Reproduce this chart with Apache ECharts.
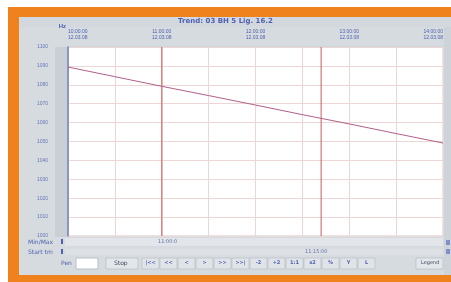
<!DOCTYPE html>
<html style="height: 100%">
<head>
<meta charset="utf-8">
<script src="https://cdn.jsdelivr.net/npm/echarts@6/dist/echarts.min.js"></script>
<style>
  body { margin: 0; background: #fff; overflow: hidden; width: 451px; height: 282px; }
  .band { position: absolute; background: #f0821e; }
  #panel { position: absolute; left: 19px; top: 17px; width: 440px; height: 258px; background: #d6dbe0; }
  #trend { position: absolute; left: 0; top: 0; width: 451px; height: 282px; }
</style>
</head>
<body>
<div class="band" style="left: 8px; top: 7px; width: 450px; height: 10px;"></div>
<div class="band" style="left: 8px; top: 7px; width: 11px; height: 275px;"></div>
<div class="band" style="left: 8px; top: 275px; width: 450px; height: 7px;"></div>
<div id="panel"></div>
<div id="trend"></div>
<script type="text/javascript">
// trend data: minutes from start, value
var minutes = [0, 30, 60, 90, 120, 150, 180, 210, 240];
var values = [1089.4, 1084.3, 1079.2, 1074.3, 1069.3, 1064.2, 1059.3, 1054.2, 1049.2];
var timeLabels = ['10:00:00', '11:00:00', '12:00:00', '13:00:00', '14:00:00'];
var dateLabel = '12.03.08';
var cursors = [60, 162];
var buttons = ['|<<', '<<', '<', '>', '>>', '>>|', '-2', '+2', '1:1', 'x2', '%', 'Y', 'L'];

var blue = '#5060b0';

var dom = document.getElementById('trend');
var myChart = echarts.init(dom);

var graphics = [
    {type: 'rect', shape: {x: 19, y: 17, width: 432, height: 10}, style: {fill: '#d2d8de'}, z: -8},
    {type: 'rect', shape: {x: 55, y: 47, width: 12, height: 190}, style: {fill: '#c9cfd4'}, z: -8},
    {type: 'rect', shape: {x: 444, y: 27, width: 7, height: 248}, style: {fill: '#cdd3d8'}, z: -8},
    {type: 'text', left: 'center', top: 18, style: {text: 'Trend: 03 BH 5 Lig. 16.2', fill: blue, font: 'bold 7px "DejaVu Sans"'}},
    // slider rows
    {type: 'rect', shape: {x: 65, y: 238, width: 378, height: 8}, style: {fill: '#e2e6ea'}},
    {type: 'rect', shape: {x: 65, y: 249, width: 378, height: 6}, style: {fill: '#dde1e5'}},
    {type: 'text', x: 28, y: 239, style: {text: 'Min/Max', fill: blue, font: '6px "DejaVu Sans"'}},
    {type: 'text', x: 28, y: 249, style: {text: 'Start tm', fill: blue, font: '6px "DejaVu Sans"'}},
    {type: 'rect', shape: {x: 61, y: 239, width: 2, height: 5}, style: {fill: blue}},
    {type: 'rect', shape: {x: 61, y: 249, width: 2, height: 5}, style: {fill: blue}},
    {type: 'text', x: 158, y: 239, style: {text: '11:00:0', fill: '#6070a8', font: '5px "DejaVu Sans"'}},
    {type: 'text', x: 305, y: 249, style: {text: '11:15:00', fill: '#6070a8', font: '5px "DejaVu Sans"'}},
    {type: 'rect', shape: {x: 446, y: 240, width: 4, height: 5}, style: {fill: '#8090c8'}},
    {type: 'rect', shape: {x: 446, y: 249, width: 4, height: 5}, style: {fill: '#8090c8'}},
    // bottom controls
    {type: 'text', x: 61, y: 260, style: {text: 'Pen', fill: blue, font: '6px "DejaVu Sans"'}},
    {type: 'rect', shape: {x: 76, y: 258, width: 22, height: 11}, style: {fill: '#fff', stroke: '#b8c0c8', lineWidth: 1}},
    {type: 'rect', shape: {x: 106, y: 258, width: 32, height: 11}, style: {fill: '#e4e7ea', stroke: '#a0a8b0', lineWidth: 0.5}},
    {type: 'text', x: 114, y: 260, style: {text: 'Stop', fill: '#404860', font: '6px "DejaVu Sans"'}},
    {type: 'rect', shape: {x: 416, y: 258, width: 27, height: 11}, style: {fill: '#e4e7ea', stroke: '#a0a8b0', lineWidth: 0.5}},
    {type: 'text', x: 421, y: 260, style: {text: 'Legend', fill: '#404860', font: '5px "DejaVu Sans"'}}
];
buttons.forEach(function (b, i) {
    var x = 142 + i * 18;
    graphics.push({type: 'rect', shape: {x: x, y: 258, width: 17, height: 11}, style: {fill: '#e0e4e8', stroke: '#a8b0b8', lineWidth: 0.5}});
    graphics.push({type: 'text', x: x + 8.5, y: 260, style: {text: b, fill: blue, font: 'bold 5px "DejaVu Sans"', align: 'center'}});
});

var series = [{
    type: 'line',
    data: minutes.map(function (m, i) { return [m, values[i]]; }),
    showSymbol: false,
    lineStyle: {color: '#b0608a', width: 1},
    z: 5
}];
cursors.forEach(function (c) {
    series.push({
        type: 'line',
        data: [[c, 1000], [c, 1100]],
        showSymbol: false,
        silent: true,
        lineStyle: {color: '#cc5a5a', width: 1},
        z: 4
    });
});

var option = {
    animation: false,
    grid: {left: 68, right: 8, top: 47, bottom: 46, show: true, backgroundColor: '#fff', borderColor: '#c8ccd0', borderWidth: 1},
    graphic: graphics,
    xAxis: {
        type: 'value',
        position: 'top',
        min: 0,
        max: 240,
        interval: 30,
        axisLine: {show: false},
        axisTick: {show: false},
        axisLabel: {
            color: blue,
            fontSize: 5,
            lineHeight: 6,
            margin: 6,
            alignMinLabel: 'left',
            alignMaxLabel: 'right',
            formatter: function (v) {
                if (v % 60 !== 0) return '';
                return timeLabels[v / 60] + '\n' + dateLabel;
            }
        },
        splitLine: {lineStyle: {color: '#ecd6d6', width: 1}}
    },
    yAxis: {
        type: 'value',
        min: 1000,
        max: 1100,
        interval: 10,
        offset: 17,
        name: 'Hz',
        nameGap: 4,
        nameTextStyle: {color: blue, fontSize: 6, fontWeight: 'bold', align: 'right', padding: [0, 2, 0, 0]},
        axisLine: {show: true, lineStyle: {color: '#7080c0', width: 1.5}},
        axisTick: {show: false},
        axisLabel: {color: '#6878b8', fontSize: 5, margin: 3, formatter: function (v) { return String(v); }},
        splitLine: {lineStyle: {color: '#ecd6d6', width: 1}}
    },
    series: series
};
myChart.setOption(option);
</script>
</body>
</html>
